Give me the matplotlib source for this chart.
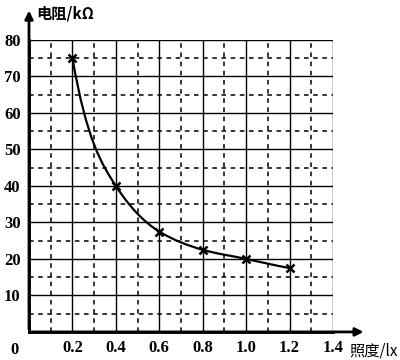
import numpy as np
import matplotlib.pyplot as plt
from matplotlib.path import Path
from matplotlib.patches import PathPatch

plt.rcParams['font.family'] = ['Liberation Serif', 'Noto Sans CJK SC', 'DejaVu Sans']

lux = [0.2, 0.4, 0.6, 0.8, 1.0, 1.2]
resistance = [75, 40, 27.5, 22.5, 20, 17.5]
x_ticks = [0.2, 0.4, 0.6, 0.8, 1.0, 1.2, 1.4]
y_ticks = [10, 20, 30, 40, 50, 60, 70, 80]

fig = plt.figure(figsize=(4, 3.6), dpi=100)
ax = fig.add_axes([0.0725, 0.078, 0.76, 0.811])
ax.set_xlim(0, 1.4)
ax.set_ylim(0, 80)

# grid: solid major, dashed minor
for v in x_ticks:
    ax.axvline(v, color='black', lw=1.0, zorder=1)
for v in [0.1, 0.3, 0.5, 0.7, 0.9, 1.1, 1.3]:
    ax.axvline(v, color='black', lw=1.1, ls=(0, (3, 3)), zorder=1)
for v in y_ticks:
    ax.axhline(v, color='black', lw=1.0, zorder=1)
for v in [5, 15, 25, 35, 45, 55, 65, 75]:
    ax.axhline(v, color='black', lw=1.1, ls=(0, (3, 3)), zorder=1)

for s in ['top', 'right']:
    ax.spines[s].set_visible(False)
for s in ['left', 'bottom']:
    ax.spines[s].set_linewidth(2)

ax.tick_params(length=0, labelsize=12, pad=6)
ax.set_xticks(x_ticks)
ax.set_xticklabels([f'{v:.1f}' for v in x_ticks], fontweight='bold')
ax.set_yticks(y_ticks)
ax.set_yticklabels([str(v) for v in y_ticks], fontweight='bold')
ax.text(-0.035, -0.035, '0', transform=ax.transAxes, ha='right', va='top',
        fontsize=12, fontweight='bold')

# smooth curve: Hermite segments, tangents estimated in log-log space
x = np.array(lux)
y = np.array(resistance, dtype=float)
lx, ly = np.log(x), np.log(y)
k = np.gradient(ly, lx)
slopes = k * y / x
verts = [(x[0], y[0])]
codes = [Path.MOVETO]
for i in range(len(x) - 1):
    h = x[i + 1] - x[i]
    verts += [(x[i] + h / 3, y[i] + slopes[i] * h / 3),
              (x[i + 1] - h / 3, y[i + 1] - slopes[i + 1] * h / 3),
              (x[i + 1], y[i + 1])]
    codes += [Path.CURVE4] * 3
ax.add_patch(PathPatch(Path(verts, codes), fill=False, lw=1.6, color='black', zorder=3))
ax.plot(lux, resistance, 'x', color='black', ms=6, mew=1.8, zorder=4)

# axis arrows
ax.annotate('', xy=(1.11, 0), xytext=(0, 0), xycoords='axes fraction',
            arrowprops=dict(arrowstyle='-|>', color='black', lw=2, mutation_scale=12))
ax.annotate('', xy=(0, 1.11), xytext=(0, 0), xycoords='axes fraction',
            arrowprops=dict(arrowstyle='-|>', color='black', lw=2, mutation_scale=12))

ax.text(1.055, -0.035, '照度/lx', transform=ax.transAxes, ha='left', va='top',
        fontsize=11, family=['Noto Sans CJK SC', 'DejaVu Sans'])
ax.text(0.025, 1.09, '电阻/kΩ', transform=ax.transAxes, ha='left', va='center',
        fontsize=11, fontweight='bold', family=['Noto Sans CJK SC', 'DejaVu Sans'])

fig.savefig('out.png', dpi=100)
